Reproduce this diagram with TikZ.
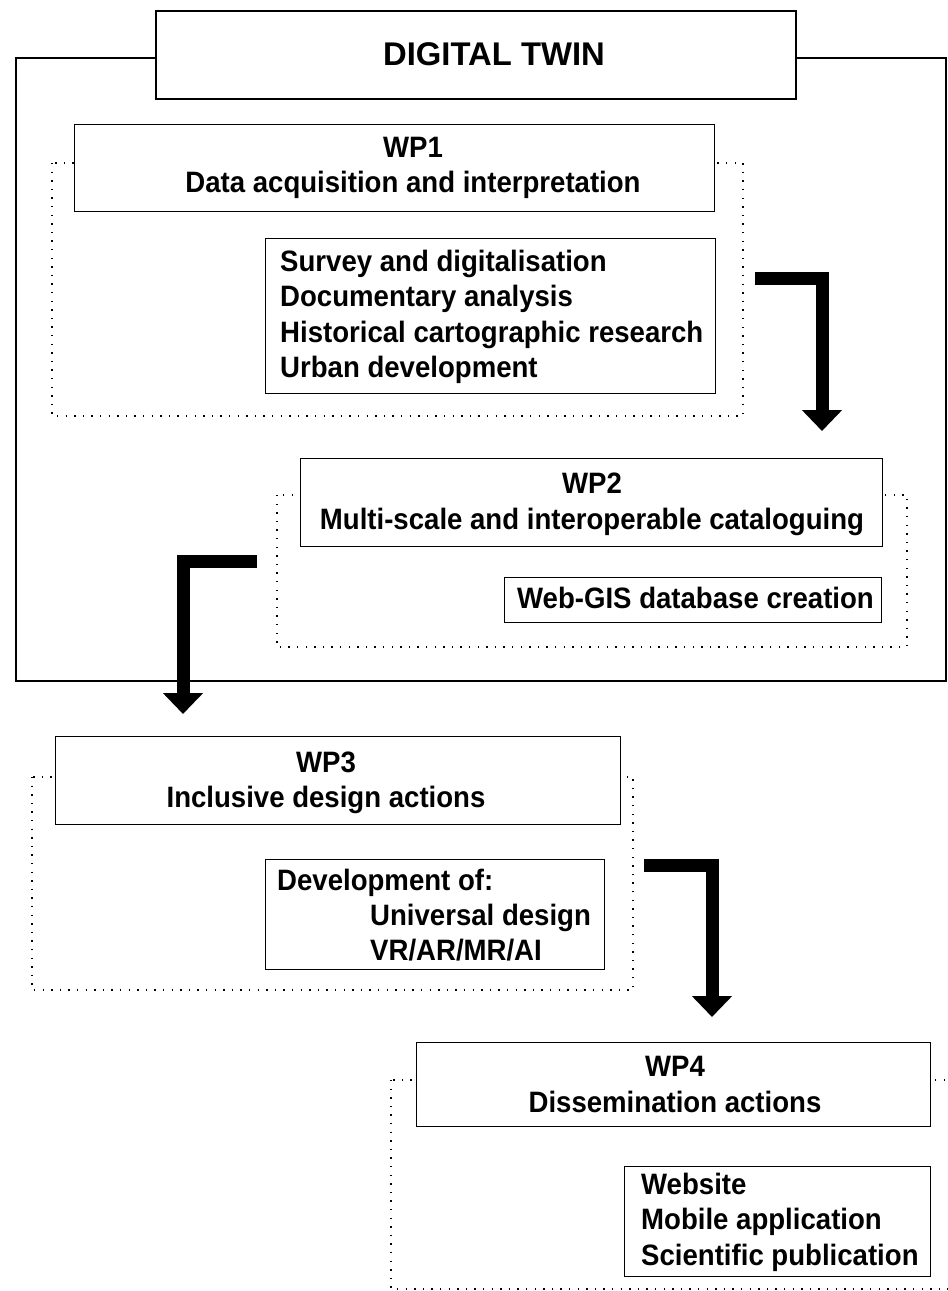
\documentclass[tikz,border=0pt]{standalone}
\usepackage{fontspec}
\setmainfont{Liberation Sans}
\newfontfamily\bodyfont{Liberation Sans}[FakeStretch=0.935]
\usetikzlibrary{arrows.meta}
\tikzset{
  frame/.style={draw, line width=2.4pt},
  box/.style={draw, fill=white, line width=1.3pt, anchor=north west, inner sep=0pt},
  bigbox/.style={draw, fill=white, line width=2.4pt, anchor=north west, inner sep=0pt},
  dotbox/.style={draw, line width=1.4pt, dash pattern=on 1.4pt off 7.2pt},
  txt/.style={inner sep=0pt, font=\bodyfont\bfseries\fontsize{29.5}{35.5}\selectfont},
  ttl/.style={txt, anchor=base},
  lst/.style={txt, anchor=base west},
  flow/.style={line width=13pt, line join=miter, -{Triangle[width=39pt,length=21pt]}}
}
\begin{document}
\begin{tikzpicture}[x=1pt,y=-1pt]
\useasboundingbox (0,0) rectangle (948,1291);
\begin{scope}
\clip (0,0) rectangle (948,1291);
% outer digital twin frame
\draw[frame] (16,58) rectangle (946,681);
% dotted work-package areas
\draw[dotbox] (52,163) rectangle (743,416);
\draw[dotbox] (277,495) rectangle (907,647);
\draw[dotbox] (32,777) rectangle (633,990);
\draw[dotbox] (391,1080) rectangle (975,1289);
% boxes
\node[bigbox, minimum width=640pt, minimum height=88pt] (dt) at (155,10) {};
\node[box, minimum width=640pt, minimum height=87pt] (wp1) at (74,124) {};
\node[box, minimum width=450pt, minimum height=155pt] (l1) at (265,238) {};
\node[box, minimum width=582pt, minimum height=88pt] (wp2) at (300,458) {};
\node[box, minimum width=377pt, minimum height=45pt] (l2) at (504,577) {};
\node[box, minimum width=565pt, minimum height=88pt] (wp3) at (55,736) {};
\node[box, minimum width=339pt, minimum height=110pt] (l3) at (265,859) {};
\node[box, minimum width=514pt, minimum height=84pt] (wp4) at (416,1042) {};
\node[box, minimum width=306pt, minimum height=110pt] (l4) at (624,1166) {};
% texts
\node[inner sep=0pt, anchor=base, font=\bfseries\fontsize{32.8}{38}\selectfont] (dtt) at (494,65) {DIGITAL TWIN};
\node[ttl] (t1a) at (413,157) {WP1};
\node[ttl] (t1b) at (413,192) {Data acquisition and interpretation};
\node[lst] (s1a) at (280,271) {Survey and digitalisation};
\node[lst] (s1b) at (280,306.5) {Documentary analysis};
\node[lst] (s1c) at (280,342) {Historical cartographic research};
\node[lst] (s1d) at (280,377.5) {Urban development};
\node[ttl] (t2a) at (592,493.5) {WP2};
\node[ttl] (t2b) at (592,529) {Multi-scale and interoperable cataloguing};
\node[lst] (s2a) at (517,608.5) {Web-GIS database creation};
\node[ttl] (t3a) at (326,772.5) {WP3};
\node[ttl] (t3b) at (326,807.5) {Inclusive design actions};
\node[lst] (s3a) at (277,890.5) {Development of:};
\node[lst] (s3b) at (370,925.5) {Universal design};
\node[lst] (s3c) at (370,960.5) {VR/AR/MR/AI};
\node[ttl] (t4a) at (675,1076.5) {WP4};
\node[ttl] (t4b) at (675,1112.5) {Dissemination actions};
\node[lst] (s4a) at (641,1194.5) {Website};
\node[lst] (s4b) at (641,1229.5) {Mobile application};
\node[lst] (s4c) at (641,1265.5) {Scientific publication};
% arrows
\coordinate (a1s) at (755,278.5);
\coordinate (a1e) at (822,431);
\coordinate (a2s) at (257,561.5);
\coordinate (a2e) at (183,714);
\coordinate (a3s) at (644,865);
\coordinate (a3e) at (712,1017);
\draw[flow] (a1s) -| (a1e);
\draw[flow] (a2s) -| (a2e);
\draw[flow] (a3s) -| (a3e);
\end{scope}
\end{tikzpicture}
\end{document}
